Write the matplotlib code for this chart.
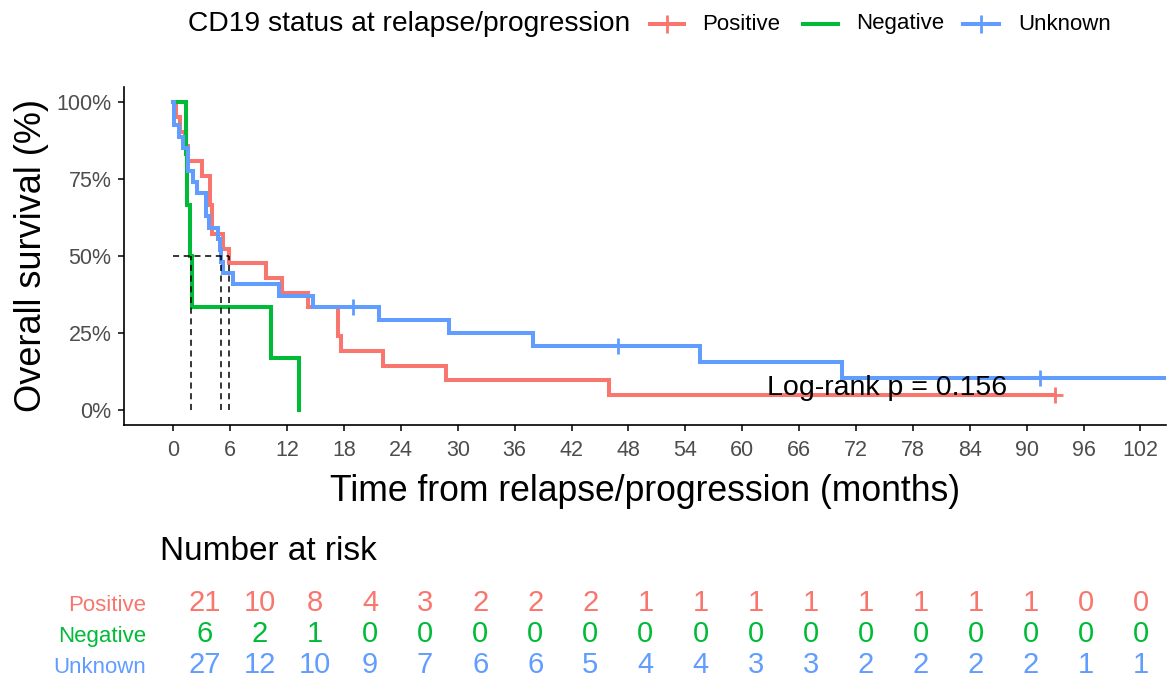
import matplotlib
matplotlib.use('Agg')
import matplotlib.pyplot as plt
import numpy as np
from matplotlib.lines import Line2D

plt.rcParams['font.family'] = ['Liberation Sans', 'DejaVu Sans']

# Follow-up data (months) per CD19 status group
groups = ['Positive', 'Negative', 'Unknown']
colors = ['#F8766D', '#00BA38', '#619CFF']

pos_events = [0.3, 0.7, 1.2, 1.6, 3.0, 3.87, 3.87, 4.1, 4.1, 5.2, 5.87,
              9.8, 11.5, 14.2, 17.4, 17.4, 17.7, 22.1, 28.8, 46.0]
pos_censored = [93.0]

neg_events = [1.3, 1.4, 1.75, 2.0, 10.3, 13.3]
neg_censored = []

unk_events = [0.1, 0.1, 0.63, 1.0, 1.6, 1.6, 2.1, 2.5, 3.45, 3.45, 3.8,
              4.7, 4.95, 5.01, 5.2, 6.25, 11.1, 14.7, 21.7, 29.1, 37.9,
              55.5, 70.5]
unk_censored = [18.9, 46.9, 91.4, 104.6]

events = [pos_events, neg_events, unk_events]
censored = [pos_censored, neg_censored, unk_censored]

time_breaks = list(range(0, 103, 6))
surv_ticks = [0, 0.25, 0.5, 0.75, 1.0]
surv_labels = ['0%', '25%', '50%', '75%', '100%']
pval_text = 'Log-rank p = 0.156'

XLIM = (-5.2, 104.7)
W, H = 1176, 684


def fx(px):
    return px / W


def fy(py):
    return 1 - py / H


def km(ev, cen):
    ev = np.array(ev, dtype=float)
    cen = np.array(cen, dtype=float)
    times = np.unique(np.concatenate([ev, cen]))
    at_risk = len(ev) + len(cen)
    xs, ys, s = [0.0], [1.0], 1.0
    for t in times:
        d = np.sum(ev == t)
        c = np.sum(cen == t)
        if d:
            s *= 1 - d / at_risk
        xs.append(t)
        ys.append(s)
        at_risk -= d + c
    return np.array(xs), np.array(ys)


def surv_at(xs, ys, t):
    i = np.searchsorted(xs, t, side='right') - 1
    return ys[i]


def median_time(xs, ys):
    for i, s in enumerate(ys):
        if s < 0.5 - 1e-9:
            return xs[i]
        if abs(s - 0.5) < 1e-9:
            nxt = [x for x, y in zip(xs[i + 1:], ys[i + 1:]) if y < s]
            return (xs[i] + nxt[0]) / 2 if nxt else xs[i]
    return None


def n_at_risk(ev, cen, t):
    return sum(1 for x in list(ev) + list(cen) if x >= t)


fig = plt.figure(figsize=(W / 100, H / 100), dpi=100)

# survival curves
ax = fig.add_axes([fx(124), fy(425), fx(1166) - fx(124), fy(87) - fy(425)])
medians = []
for ev, cen, col in zip(events, censored, colors):
    xs, ys = km(ev, cen)
    ax.step(xs, ys, where='post', color=col, lw=2.9, solid_joinstyle='miter')
    marks = [c for c in cen if c < XLIM[1] - 1]
    if marks:
        ax.plot(marks, [surv_at(xs, ys, c) for c in marks], ls='none',
                marker='+', ms=12, mew=2, color=col)
    medians.append(median_time(xs, ys))

# median survival lines
ax.plot([0, max(medians)], [0.5, 0.5], color='black', lw=1.1, dashes=(4, 3))
for m in medians:
    ax.plot([m, m], [0, 0.5], color='black', lw=1.1, dashes=(4, 3))

ax.text(62.6, 0.07, pval_text, fontsize=20.5, ha='left', va='center')

ax.set_xlim(*XLIM)
ax.set_ylim(-0.05, 1.05)
ax.set_xticks(time_breaks)
ax.set_yticks(surv_ticks, surv_labels)
ax.spines[['top', 'right']].set_visible(False)
for sp in ['left', 'bottom']:
    ax.spines[sp].set_linewidth(1.2)
ax.tick_params(length=4, width=1.1, labelsize=15.5, labelcolor='#4D4D4D')
ax.tick_params(axis='x', pad=7)
ax.tick_params(axis='y', pad=5)
ax.set_xlabel('Time from relapse/progression (months)', fontsize=25.6, labelpad=9)
ax.set_ylabel('Overall survival (%)', fontsize=26, labelpad=5)

# legend across the top
fig.text(fx(188), fy(24), 'CD19 status at relapse/progression', fontsize=20.3,
         ha='left', va='center')
key_x = [(650, 684, 702), (803, 838, 856), (963, 999, 1018)]
for (x0, x1, xt), lab, col, cen in zip(key_x, groups, colors, censored):
    fig.add_artist(Line2D([fx(x0), fx(x1)], [fy(24), fy(24)], color=col,
                          lw=2.9, transform=fig.transFigure))
    if cen:
        fig.add_artist(Line2D([fx((x0 + x1) / 2)], [fy(24)], color=col,
                              marker='+', ms=13, mew=2, ls='none',
                              transform=fig.transFigure))
    fig.text(fx(xt), fy(24), lab, fontsize=16, ha='left', va='center')

# number at risk table
fig.text(fx(160), fy(551), 'Number at risk', fontsize=24, ha='left', va='center')
axr = fig.add_axes([fx(157), fy(680.5), fx(1166) - fx(157), fy(587.5) - fy(680.5)])
axr.set_xlim(*XLIM)
axr.set_ylim(0.5, 3.5)
rows = [3, 2, 1]
for ev, cen, col, r in zip(events, censored, colors, rows):
    for t in time_breaks:
        axr.text(t, r, str(n_at_risk(ev, cen, t)), color=col, fontsize=21,
                 ha='center', va='center')
axr.set_yticks(rows, groups)
for lbl, col in zip(axr.get_yticklabels(), colors):
    lbl.set_color(col)
axr.tick_params(axis='y', length=0, labelsize=16, pad=8)
axr.set_xticks([])
for sp in axr.spines.values():
    sp.set_visible(False)
axr.patch.set_visible(False)

fig.savefig('out.png', dpi=100)
